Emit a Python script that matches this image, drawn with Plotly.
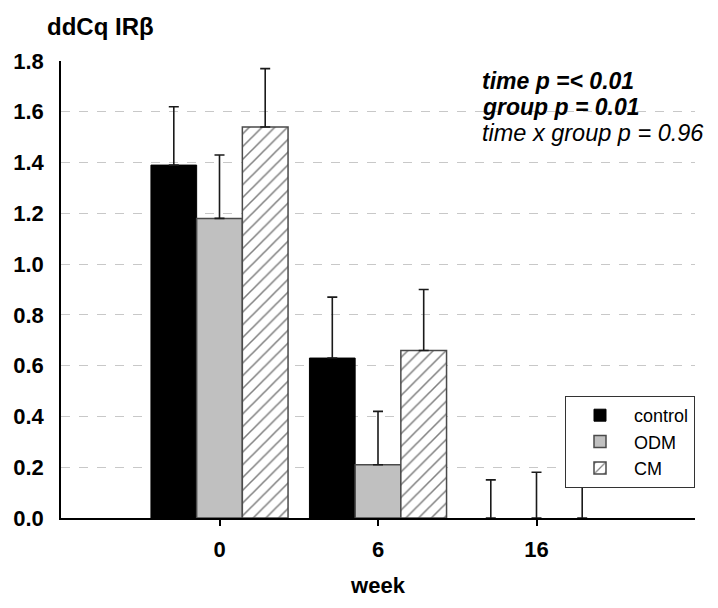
import plotly.graph_objects as go

weeks = ["0", "6", "16"]
groups = ["control", "ODM", "CM"]
control_vals = [1.39, 0.63, 0.0]
control_err = [0.23, 0.24, 0.15]
odm_vals = [1.18, 0.21, 0.0]
odm_err = [0.25, 0.21, 0.18]
cm_vals = [1.54, 0.66, 0.0]
cm_err = [0.23, 0.24, 0.25]

y_ticks = [0.0, 0.2, 0.4, 0.6, 0.8, 1.0, 1.2, 1.4, 1.6, 1.8]

FONT = "Arial, 'Liberation Sans', sans-serif"
x_pos = [1, 2, 3]

def err(arr):
    return dict(type="data", array=arr, arrayminus=[0] * len(arr), symmetric=False,
                color="#1a1a1a", thickness=1.6, width=5)

def lw(vals, w):
    return [w if v > 0 else 0 for v in vals]

fig = go.Figure()
fig.add_trace(go.Bar(x=x_pos, y=control_vals, name=groups[0], error_y=err(control_err),
                     marker=dict(color="black", line=dict(color="black", width=lw(control_vals, 1)))))
fig.add_trace(go.Bar(x=x_pos, y=odm_vals, name=groups[1], error_y=err(odm_err),
                     marker=dict(color="#c0c0c0", line=dict(color="#4a4a4a", width=lw(odm_vals, 1.5)))))
fig.add_trace(go.Bar(x=x_pos, y=cm_vals, name=groups[2], error_y=err(cm_err),
                     marker=dict(color="white", line=dict(color="#4a4a4a", width=lw(cm_vals, 1.5)),
                                 pattern=dict(shape="/", fgcolor="black", bgcolor="white",
                                              size=9, solidity=0.17))))

fig.update_layout(
    width=718, height=608,
    margin=dict(l=61, r=23, t=61, b=90),
    paper_bgcolor="white", plot_bgcolor="white",
    barmode="group", bargap=0.135, bargroupgap=0,
    font=dict(family=FONT, color="black"),
    showlegend=True,
    legend=dict(x=1, y=(518 - 488) / 457, xanchor="right", yanchor="bottom",
                bordercolor="#333333", borderwidth=1, bgcolor="white",
                font=dict(size=18, family=FONT), tracegroupgap=0,
                itemwidth=58),
    xaxis=dict(range=[0, 4], tickmode="array", tickvals=x_pos, ticktext=weeks,
               showline=True, linecolor="black", linewidth=2,
               ticks="outside", ticklen=6, tickwidth=1.5, tickcolor="black",
               ticklabelstandoff=5,
               showgrid=False, zeroline=False,
               tickfont=dict(size=22, family=FONT, weight="bold"),
               title=dict(text="<b>week</b>", font=dict(size=22, family=FONT), standoff=16)),
    yaxis=dict(range=[0, 1.8], tickmode="array", tickvals=y_ticks,
               ticktext=[f"{v:.1f}" for v in y_ticks],
               showline=True, linecolor="black", linewidth=1.5,
               ticks="", ticklabelstandoff=11,
               showgrid=True, gridcolor="#c8c8c8", gridwidth=1, griddash="dash",
               zeroline=False,
               tickfont=dict(size=22, family=FONT, weight="bold")),
)

fig.add_annotation(xref="paper", yref="paper", x=(45 - 61) / 634, y=(518 - 26) / 457,
                   xanchor="left", yanchor="middle", showarrow=False,
                   text="<b>ddCq IRβ</b>", font=dict(size=24, family=FONT))

anns = ["<b><i>time p =&lt; 0.01</i></b>", "<b><i>group p = 0.01</i></b>",
        "<i>time x group p = 0.96</i>"]
sizes = [23, 23, 23.5]
for i, t in enumerate(anns):
    fig.add_annotation(xref="paper", yref="paper", x=(480 - 61) / 634, y=(518 - 81 - 26 * i) / 457,
                       xanchor="left", yanchor="middle", showarrow=False,
                       text=t, font=dict(size=sizes[i], family=FONT))

fig.write_html("out.html", config={"displayModeBar": False},
               post_script="document.body.style.margin='0px';")
